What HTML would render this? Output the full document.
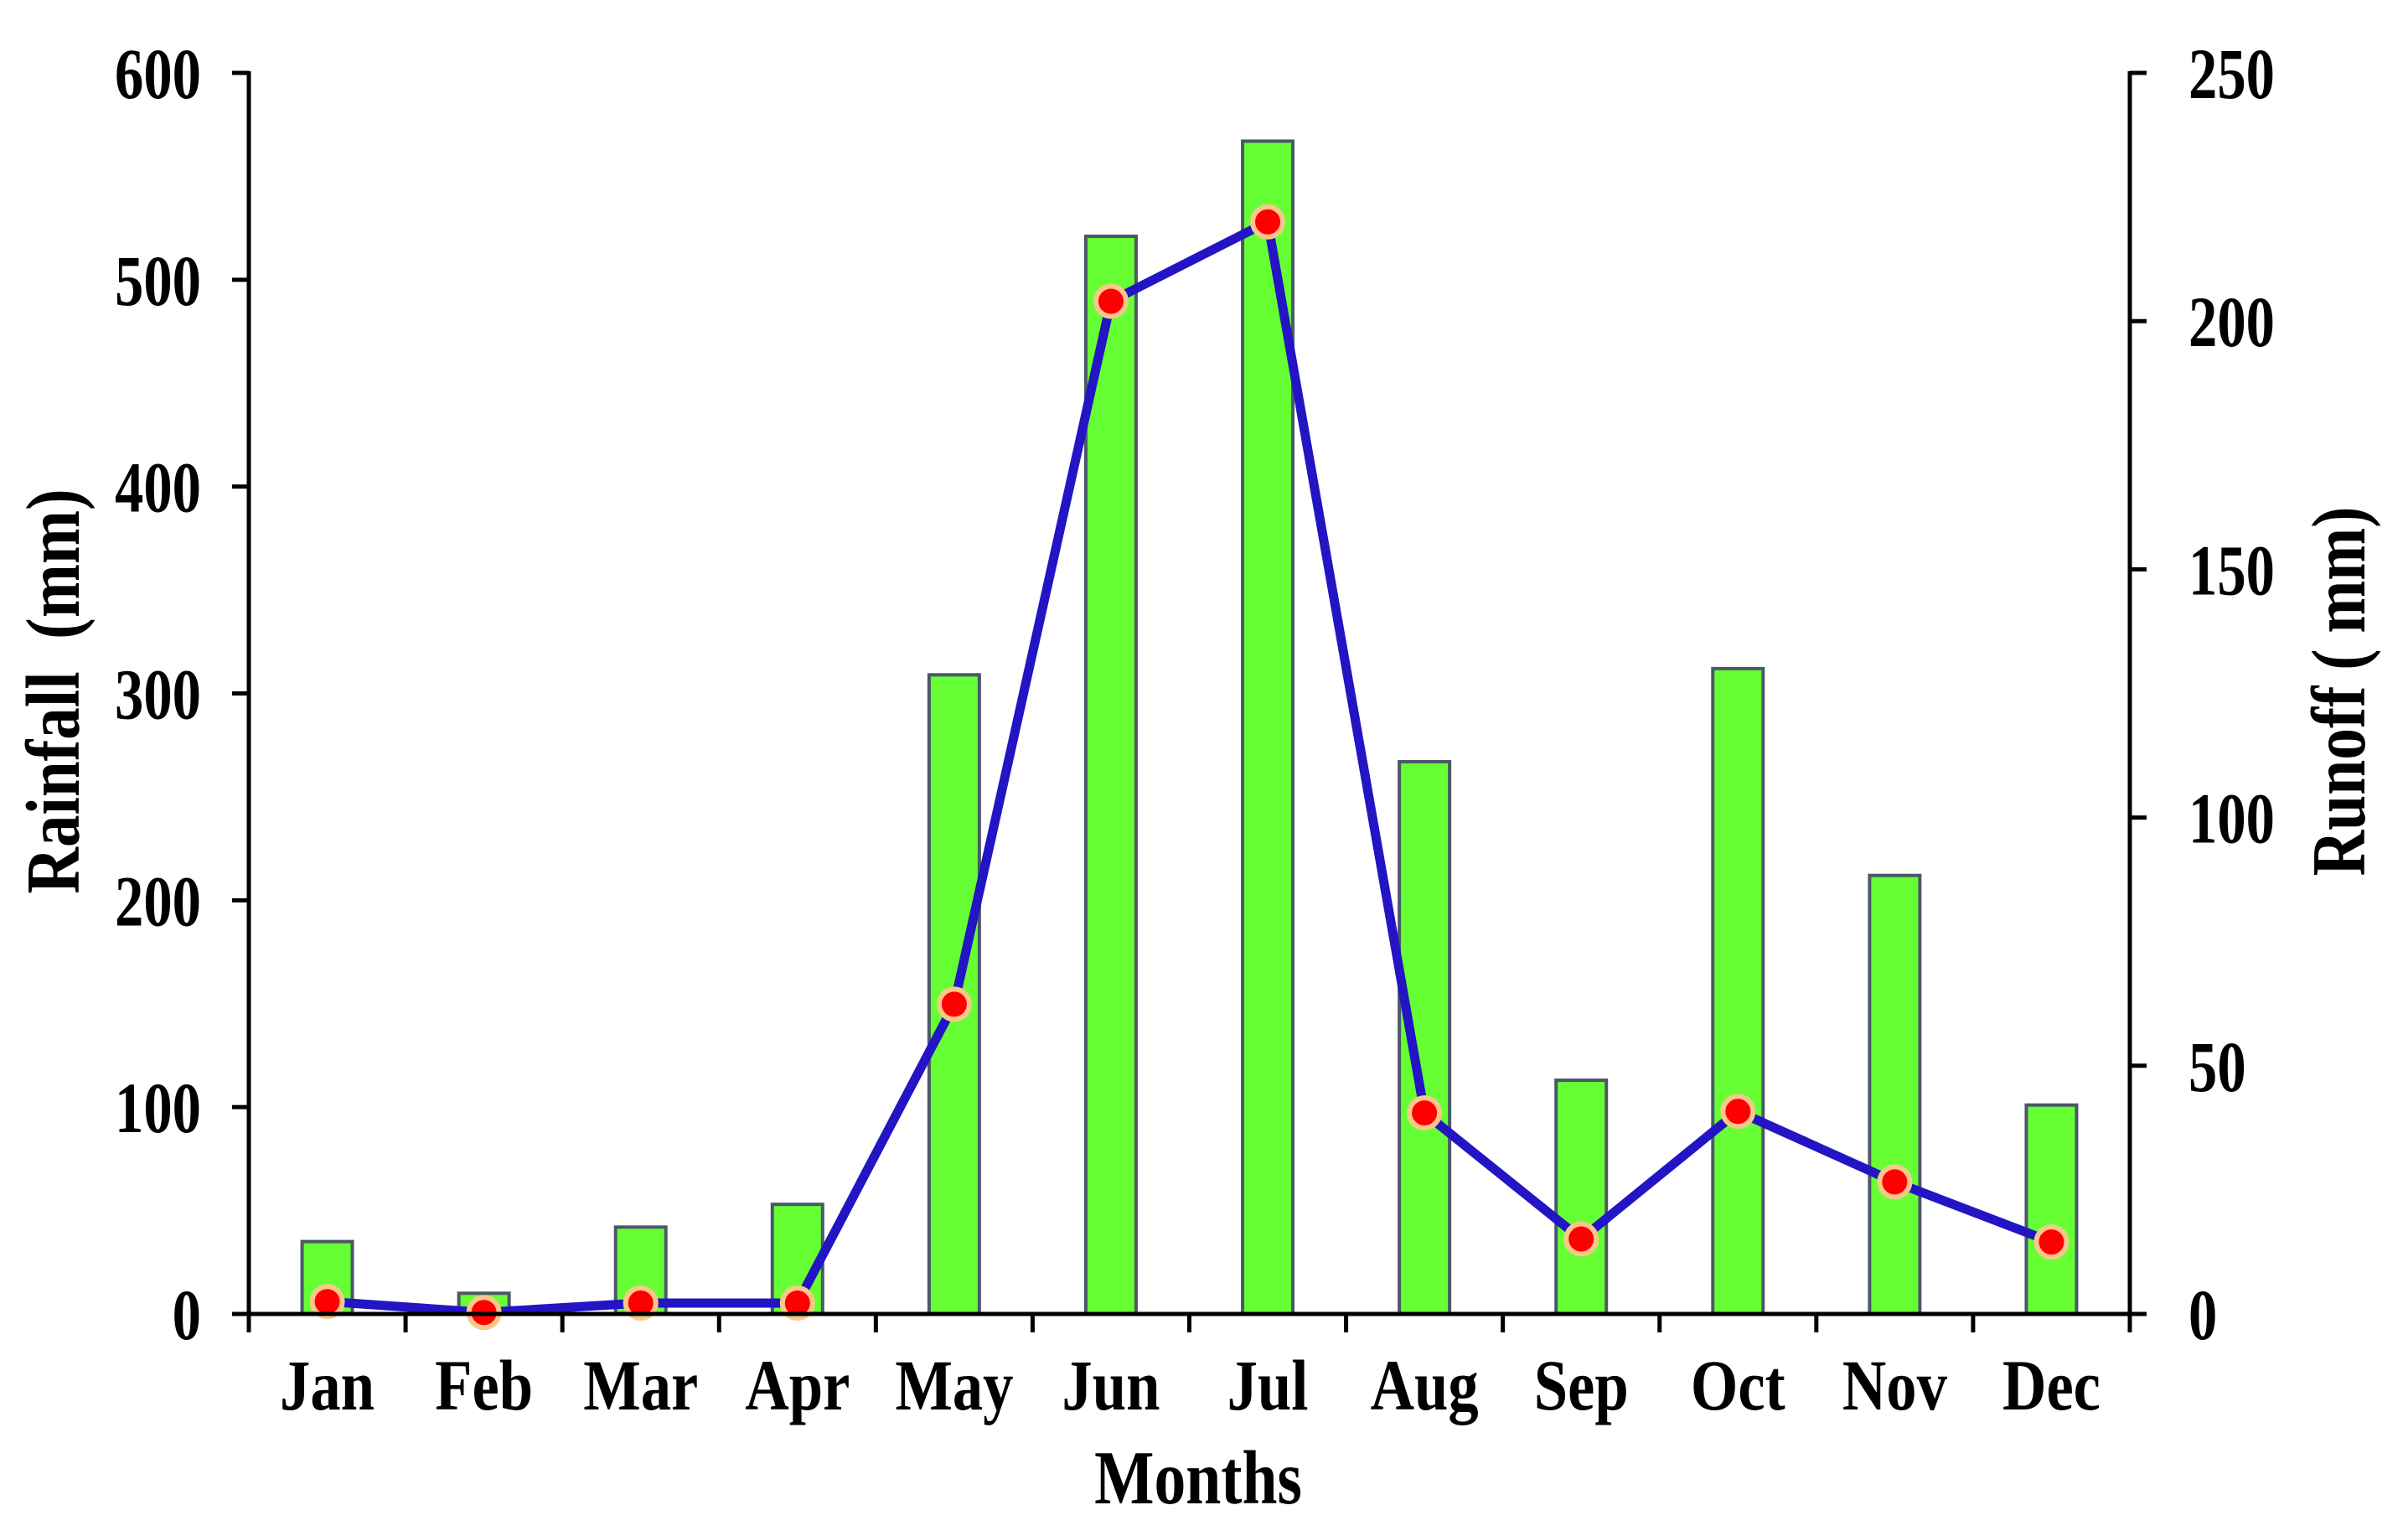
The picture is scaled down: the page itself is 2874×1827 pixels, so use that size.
<!DOCTYPE html>
<html><head><meta charset="utf-8">
<style>
html,body{margin:0;padding:0;background:#fff;}
svg{display:block;}
text{font-family:"Liberation Serif",serif;font-weight:bold;fill:#000;}
</style></head>
<body>
<svg id="chart" width="2874" height="1827" viewBox="0 0 2874 1827" xmlns="http://www.w3.org/2000/svg">
<g id="bars"></g>
<g id="line"></g>
<g id="axes"></g>
<text x="0" y="0" font-size="70" text-anchor="middle" xml:space="preserve" transform="translate(94,825) rotate(-90) scale(1.1,1.3)">Rainfall  (mm)</text>
<text x="0" y="0" font-size="70" text-anchor="middle" transform="translate(2822,825) rotate(-90) scale(1.08,1.3)">Runoff ( mm)</text>
<text x="0" y="0" font-size="70" text-anchor="middle" transform="translate(1430,1794) scale(1.08,1.3)">Months</text>
</svg>
<script>
const categories = ["Jan","Feb","Mar","Apr","May","Jun","Jul","Aug","Sep","Oct","Nov","Dec"];
const rainfall = [35,10,42,53,309,521,567,267,113,312,212,101];
const runoff = [2.5,0.3,2.2,2.2,62.4,204,220,40.5,15.1,40.8,26.6,14.5];
const leftTicks = [0,100,200,300,400,500,600];
const rightTicks = [0,50,100,150,200,250];

const NS = "http://www.w3.org/2000/svg";
const X0 = 297, X1 = 2542, Y0 = 1568, Y1 = 87;
const catW = (X1 - X0) / categories.length;
function xc(i){ return X0 + (i + 0.5) * catW; }
function yL(v){ return Y0 - (v / 600) * (Y0 - Y1); }
function yR(v){ return Y0 - (v / 250) * (Y0 - Y1); }
function mk(tag, attrs, parent){
  const e = document.createElementNS(NS, tag);
  for (const k in attrs) e.setAttribute(k, attrs[k]);
  parent.appendChild(e);
  return e;
}
const bars = document.getElementById('bars');
const line = document.getElementById('line');
const axes = document.getElementById('axes');

rainfall.forEach((v, i) => {
  const r = mk('rect', {x: xc(i) - 30, y: yL(v), width: 60, height: Y0 - yL(v), fill: '#66ff33', stroke: '#4a5868', 'stroke-width': 4}, bars);
  
  
});

const pts = runoff.map((v, i) => xc(i) + ',' + yR(v)).join(' ');
const pl = mk('polyline', {points: pts, fill: 'none', stroke: '#2314c4', 'stroke-width': 11, 'stroke-linejoin': 'round'}, line);


runoff.forEach((v, i) => {
  const c = mk('circle', {cx: xc(i), cy: yR(v), r: 18, fill: '#ff0000', stroke: '#f8c88a', 'stroke-width': 6}, line);
  
  
});

const st = {stroke: '#000', 'stroke-width': 5};
const la = mk('line', Object.assign({x1: X0, y1: Y1 - 2, x2: X0, y2: Y0 + 22}, st), axes);


const ra = mk('line', Object.assign({x1: X1, y1: Y1 - 2, x2: X1, y2: Y0 + 22}, st), axes);


const xa = mk('line', Object.assign({x1: X0 - 20, y1: Y0, x2: X1 + 20, y2: Y0}, st), axes);



leftTicks.forEach(v => {
  mk('line', Object.assign({x1: X0 - 20, y1: yL(v), x2: X0, y2: yL(v)}, st), axes);
  const t = mk('text', {x: 0, y: 0, 'font-size': 66, 'text-anchor': 'end', transform: 'translate(240,' + (yL(v) + 30) + ') scale(1.04,1.3)'}, axes);
  t.textContent = v;
  
  
});
rightTicks.forEach(v => {
  mk('line', Object.assign({x1: X1, y1: yR(v), x2: X1 + 20, y2: yR(v)}, st), axes);
  const t = mk('text', {x: 0, y: 0, 'font-size': 66, 'text-anchor': 'start', transform: 'translate(2612,' + (yR(v) + 30) + ') scale(1.04,1.3)'}, axes);
  t.textContent = v;
  
  
});
for (let i = 0; i <= categories.length; i++) {
  const x = X0 + i * catW;
  mk('line', Object.assign({x1: x, y1: Y0, x2: x, y2: Y0 + 22}, st), axes);
}
categories.forEach((c, i) => {
  const t = mk('text', {x: 0, y: 0, 'font-size': 66, 'text-anchor': 'middle', transform: 'translate(' + xc(i) + ',1682) scale(1.1,1.3)'}, axes);
  t.textContent = c;
  
  
});
</script>
</body></html>
